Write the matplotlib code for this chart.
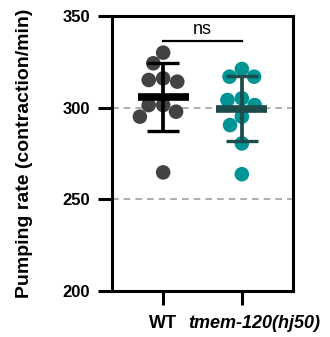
import numpy as np
import matplotlib
matplotlib.use("Agg")
import matplotlib.pyplot as plt
from matplotlib.transforms import ScaledTranslation

plt.rcParams['font.family'] = ['Liberation Sans', 'DejaVu Sans']

groups = ["WT", "tmem-120(hj50)"]
wt = [330.0, 324.2, 316.0, 315.1, 314.2, 301.4, 301.4, 297.8, 295.1, 264.7]
tmem = [321.1, 316.9, 316.9, 305.1, 304.2, 301.4, 295.1, 290.5, 280.5, 263.7]
point_colors = ["#424242", "#009494"]
bar_colors = ["#000000", "#1e4b4b"]
yticks = [200, 250, 300, 350]
grid_values = [250, 300]


def swarm_offsets(values, diam, xscale, yscale):
	# simple beeswarm: put each point as close to the center as it fits
	order = np.argsort(values)[::-1]
	placed = []
	offsets = np.zeros(len(values))
	for i in order:
		y = values[i] * yscale
		cands = [0.0]
		for xj, yj in placed:
			dy = abs(y - yj)
			if dy < diam:
				dx = np.sqrt(diam ** 2 - dy ** 2)
				cands += [xj - dx, xj + dx]
		valid = [c for c in cands
				 if all((c - xj) ** 2 + (y - yj) ** 2 >= diam ** 2 - 1e-6 for xj, yj in placed)]
		best = min(valid, key=lambda c: (abs(c), c))
		placed.append((best, y))
		offsets[i] = best / xscale
	return offsets


fig = plt.figure(figsize=(3.30, 3.37), dpi=100)
ax = fig.add_axes([112 / 330, 1 - 291 / 337, 181 / 330, 275 / 337])
ax.set_xlim(-0.65, 1.65)
ax.set_ylim(200, 350)

xscale = 181 / 2.3
yscale = 275 / 150.0

for y in grid_values:
	ax.axhline(y, color="#a0a0a0", lw=1.2, ls=(0, (4, 3)), zorder=1)

for i, vals in enumerate([wt, tmem]):
	vals = np.array(vals)
	offs = swarm_offsets(vals, 14.5, xscale, yscale)
	ax.scatter(i + offs, vals, s=110, color=point_colors[i], edgecolors="none", zorder=3)
	m = vals.mean()
	sd = vals.std(ddof=1)
	ax.hlines(m, i - 0.325, i + 0.325, color=bar_colors[i], lw=5.5, zorder=4)
	ax.vlines(i, m - sd, m + sd, color=bar_colors[i], lw=2.7, zorder=4)
	ax.hlines([m - sd, m + sd], i - 0.2, i + 0.2, color=bar_colors[i], lw=2.4, zorder=4)

# significance bar
ax.plot([0, 1], [336.5, 336.5], color="black", lw=1.6, clip_on=False, zorder=5)
ax.text(0.5, 338.0, "ns", ha="center", va="bottom", fontsize=13)

for s in ax.spines.values():
	s.set_linewidth(2.2)
ax.set_yticks(yticks)
ax.set_xticks([0, 1])
ax.set_xticklabels(groups)
ax.tick_params(axis="both", length=10, width=2.2, pad=6)
ax.tick_params(axis="y", labelsize=12)
ax.tick_params(axis="x", labelsize=13, pad=7)
for lab in ax.get_yticklabels() + ax.get_xticklabels():
	lab.set_fontweight("bold")
tl = ax.get_xticklabels()[1]
tl.set_fontstyle("italic")
tl.set_transform(tl.get_transform() + ScaledTranslation(0.12, 0, fig.dpi_scale_trans))

ax.set_ylabel("Pumping rate (contraction/min)", fontsize=14, fontweight="bold")
ax.yaxis.set_label_coords(-0.436, 0.5)

fig.savefig("out.png", dpi=100)
